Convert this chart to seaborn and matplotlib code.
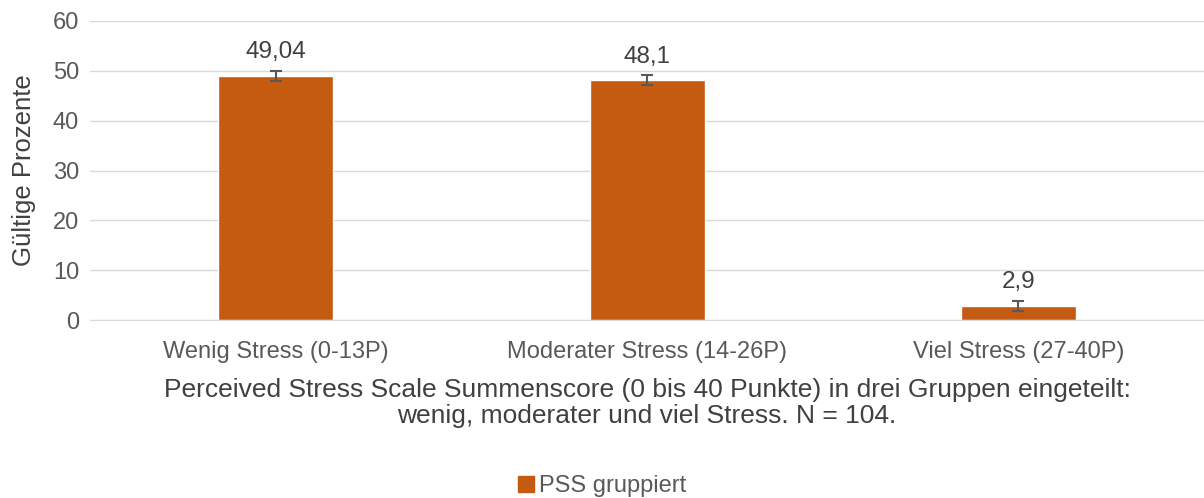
import pandas as pd
import seaborn as sns
import matplotlib.pyplot as plt
from matplotlib.patches import Patch

# Data
categories = ["Wenig Stress (0-13P)", "Moderater Stress (14-26P)", "Viel Stress (27-40P)"]
values = [49.04, 48.1, 2.9]
errors = [1.0, 1.0, 1.0]
value_labels = ["49,04", "48,1", "2,9"]
series_name = "PSS gruppiert"

bar_color = "#C55A11"
text_color = "#595959"

sns.set_style("white")
plt.rcParams["font.family"] = ["Liberation Sans", "DejaVu Sans"]

df = pd.DataFrame({"Kategorie": categories, "Prozent": values})

fig = plt.figure(figsize=(12.04, 4.98), dpi=100)
ax = fig.add_axes([0.075, 0.357, 0.925, 0.601])

sns.barplot(data=df, x="Kategorie", y="Prozent", color=bar_color, width=0.31,
            saturation=1, errorbar=None, ax=ax)
ax.errorbar(range(len(values)), values, yerr=errors, fmt="none",
            ecolor=text_color, elinewidth=1.5, capsize=4, capthick=1.5)

for i, (v, lab) in enumerate(zip(values, value_labels)):
    ax.text(i, v + 2.5, lab, ha="center", va="bottom", fontsize=17.5, color="#404040")

ax.set_xlim(-0.5, 2.5)
ax.set_ylim(0, 60)
ax.set_yticks(range(0, 61, 10))
ax.yaxis.grid(True, color="#D9D9D9", linewidth=1)
ax.set_axisbelow(True)
for s in ["top", "right", "left"]:
    ax.spines[s].set_visible(False)
ax.spines["bottom"].set_color("#D9D9D9")
ax.tick_params(axis="both", colors=text_color, labelsize=17, length=0)
ax.tick_params(axis="x", pad=15)
ax.tick_params(axis="y", pad=8)

ax.set_ylabel("Gültige Prozente", fontsize=18.5, color="#404040", labelpad=12)
ax.set_xlabel("Perceived Stress Scale Summenscore (0 bis 40 Punkte) in drei Gruppen eingeteilt:\n"
              "wenig, moderater und viel Stress. N = 104.",
              fontsize=19, color="#404040", labelpad=11, linespacing=1.1)

handle = Patch(color=bar_color, label=series_name)
fig.legend(handles=[handle], loc="center", bbox_to_anchor=(0.5, 0.024), frameon=False,
           fontsize=17, labelcolor=text_color, handlelength=0.7, handleheight=0.7,
           handletextpad=0.2)

fig.savefig("out.png", dpi=100)
